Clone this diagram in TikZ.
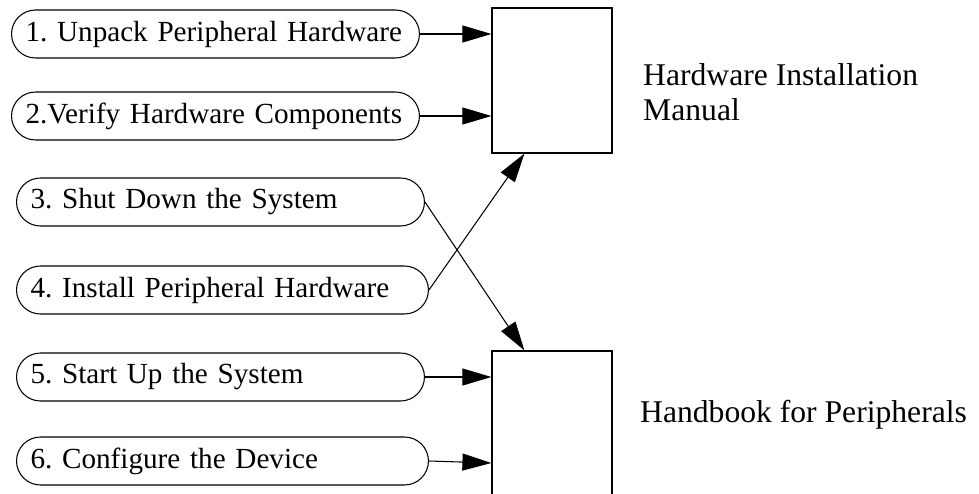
\documentclass[tikz,border=0pt]{standalone}
\usepackage{fontspec}
\setmainfont{Liberation Serif}
\frenchspacing
\usetikzlibrary{arrows.meta,positioning}

\tikzset{
  stage/.style={draw,line width=0.6pt,rounded corners=0.48cm,minimum height=0.96cm,
    text width=7.6cm,inner xsep=0.28cm,align=left,anchor=west,
    font=\fontsize{16.6}{20}\selectfont},
  manual/.style={draw,line width=0.7pt,minimum width=2.4cm},
  booktitle/.style={anchor=west,align=left,font=\fontsize{18}{19.8}\selectfont},
  feed/.style={line width=0.6pt,-{Triangle[length=0.58cm,width=0.34cm]}}
}

\begin{document}
\begin{tikzpicture}[x=0.02cm,y=-0.02cm]
			\useasboundingbox (0,0) rectangle (979,493);
			\clip (0,0) rectangle (979,493);
			% the two manuals
			\node[manual,minimum height=2.9cm] (hw) at (552,80.5) {};
			\node[manual,minimum height=3.2cm] (hp) at (552,431) {};
			\node[booktitle] (hwt) at (637,92) {Hardware Installation\\Manual};
			\node[booktitle] (hpt) at (634,415) {Handbook for Peripherals};
			% the six steps
			\node[stage] (s1) at (11,34) {1. Unpack Peripheral Hardware};
			\node[stage] (s2) at (11,116) {2.Verify Hardware Components};
			\node[stage] (s3) at (16,202) {3. Shut Down the System};
			\node[stage,text width=7.68cm] (s4) at (16,290) {4. Install Peripheral Hardware};
			\node[stage] (s5) at (16,377) {5. Start Up the System};
			\node[stage,text width=7.68cm] (s6) at (16,461) {6. Configure the Device};
			% where the crossing lines meet the boxes
			\coordinate (hw-in) at ([xshift=0.66cm]hw.south west);
			\coordinate (hp-in) at ([xshift=0.66cm]hp.north west);
			\draw[feed] (s1.east) -- (s1.east -| hw.west);
			\draw[feed] (s2.east) -- (s2.east -| hw.west);
			\draw[feed] (s3.east) -- (hp-in);
			\draw[feed] (s4.east) -- (hw-in);
			\draw[feed] (s5.east) -- (s5.east -| hp.west);
			\draw[feed] (s6.east) -- ([yshift=-0.04cm]s6.east -| hp.west);
		\end{tikzpicture}
\end{document}
